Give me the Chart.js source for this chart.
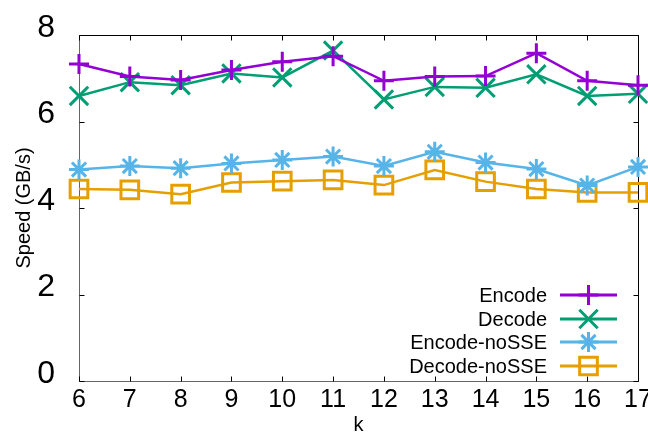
<!DOCTYPE html>
<html>
<head>
<meta charset="utf-8">
<script src="https://cdn.jsdelivr.net/npm/chart.js@4/dist/chart.umd.min.js"></script>
<style>
  html,body{margin:0;padding:0;background:#fff;}
  #wrap{width:648px;height:434px;position:relative;}
</style>
</head>
<body>
<div id="wrap"><canvas id="c" width="648" height="434"></canvas></div>
<script>
const kValues = [6, 7, 8, 9, 10, 11, 12, 13, 14, 15, 16, 17];
const encode = [7.33, 7.04, 6.96, 7.19, 7.38, 7.51, 6.94, 7.04, 7.05, 7.58, 6.94, 6.84];
const decode = [6.59, 6.91, 6.84, 7.11, 7.02, 7.64, 6.51, 6.80, 6.78, 7.09, 6.59, 6.64];
const encodeNoSSE = [4.89, 4.97, 4.92, 5.03, 5.11, 5.19, 4.97, 5.30, 5.05, 4.90, 4.52, 4.95];
const decodeNoSSE = [4.44, 4.42, 4.32, 4.59, 4.62, 4.65, 4.53, 4.88, 4.61, 4.44, 4.36, 4.36];
const seriesNames = ['Encode', 'Decode', 'Encode-noSSE', 'Decode-noSSE'];
const yTicks = [0, 2, 4, 6, 8];
const xTicks = kValues;

const colors = ['#9400D3', '#009E73', '#56B4E9', '#E69F00'];
const styles = ['cross', 'crossRot', 'star', 'rect'];
const radii = [10, 13, 10, 12.5];
const allData = [encode, decode, encodeNoSSE, decodeNoSSE];

const datasets = allData.map((vals, i) => ({
  label: seriesNames[i],
  data: kValues.map((k, j) => ({x: k, y: vals[j]})),
  borderColor: colors[i],
  backgroundColor: colors[i],
  borderWidth: 2.5,
  pointStyle: styles[i],
  pointRadius: radii[i],
  pointBorderColor: colors[i],
  pointBackgroundColor: 'rgba(0,0,0,0)',
  pointBorderWidth: 3,
  tension: 0,
  clip: false
}));

const frame = {
  id: 'frame',
  beforeDatasetsDraw(chart) {
    const {ctx, chartArea: a, scales: {x, y}} = chart;
    ctx.save();
    ctx.lineWidth = 1;
    const L = Math.round(a.left) + 0.5, R = Math.round(a.right) + 0.5;
    const T = Math.round(a.top) + 0.5, B = Math.round(a.bottom) + 0.5;
    ctx.strokeStyle = '#000';
    ctx.beginPath();
    ctx.moveTo(L, T); ctx.lineTo(R, T); ctx.lineTo(R, B);
    ctx.stroke();
    ctx.strokeStyle = '#666';
    ctx.beginPath();
    ctx.moveTo(L, T); ctx.lineTo(L, B); ctx.lineTo(R, B);
    ctx.stroke();
    ctx.strokeStyle = '#000';
    ctx.beginPath();
    yTicks.forEach(v => {
      const py = Math.round(y.getPixelForValue(v)) + 0.5;
      ctx.moveTo(L, py); ctx.lineTo(L + 5, py);
      ctx.moveTo(R, py); ctx.lineTo(R - 5, py);
    });
    xTicks.forEach(v => {
      const px = Math.round(x.getPixelForValue(v)) + 0.5;
      ctx.moveTo(px, B); ctx.lineTo(px, B - 5);
      ctx.moveTo(px, T); ctx.lineTo(px, T + 5);
    });
    ctx.stroke();
    ctx.restore();
  },
  afterDraw(chart) {
    const {ctx} = chart;
    const rowsY = [295, 319, 342, 366];
    ctx.save();
    ctx.font = '20px "Liberation Sans", Arial, sans-serif';
    ctx.textAlign = 'right';
    ctx.textBaseline = 'middle';
    seriesNames.forEach((name, i) => {
      const yy = rowsY[i];
      ctx.fillStyle = '#000';
      ctx.fillText(name, 547, yy + 1);
      ctx.strokeStyle = colors[i];
      ctx.lineWidth = 3;
      ctx.beginPath();
      ctx.moveTo(560, yy); ctx.lineTo(617, yy);
      ctx.stroke();
      const opts = {pointStyle: styles[i], radius: radii[i], rotation: 0, borderWidth: 3};
      ctx.fillStyle = 'rgba(0,0,0,0)';
      ctx.lineWidth = 3;
      if (Chart.helpers && Chart.helpers.drawPoint) {
        Chart.helpers.drawPoint(ctx, opts, 588.5, yy);
      }
    });
    ctx.restore();
  }
};

new Chart(document.getElementById('c'), {
  type: 'line',
  data: {datasets},
  plugins: [frame],
  options: {
    responsive: false,
    animation: false,
    events: [],
    layout: {autoPadding: false, padding: {left: 0, right: 10, top: 35, bottom: 0}},
    plugins: {legend: {display: false}, tooltip: {enabled: false}},
    scales: {
      x: {
        type: 'linear',
        min: 6, max: 17,
        afterBuildTicks(s) { s.ticks = xTicks.map(v => ({value: v})); },
        afterFit(s) { s.height = 53; s.paddingLeft = 0; s.paddingRight = 0; },
        grid: {display: false},
        border: {display: false},
        ticks: {
          color: '#000', padding: -4, maxRotation: 0, autoSkip: false,
          font: {family: '"Liberation Sans", Arial, sans-serif', size: 25}
        },
        title: {
          display: true, text: 'k', color: '#000',
          font: {family: '"Liberation Sans", Arial, sans-serif', size: 20, lineHeight: 1},
          padding: {top: 0, bottom: -1}
        }
      },
      y: {
        min: 0, max: 8,
        afterBuildTicks(s) { s.ticks = yTicks.map(v => ({value: v})); },
        afterFit(s) { s.width = 79; s.paddingTop = 0; s.paddingBottom = 0; },
        grid: {display: false},
        border: {display: false},
        ticks: {
          color: '#000', padding: 16, labelOffset: -7,
          font: {family: '"Liberation Sans", Arial, sans-serif', size: 32}
        },
        title: {
          display: true, text: 'Speed (GB/s)', color: '#000',
          font: {family: '"Liberation Sans", Arial, sans-serif', size: 20, lineHeight: 1.2},
          padding: {top: 12, bottom: 0}
        }
      }
    }
  }
});
</script>
</body>
</html>
